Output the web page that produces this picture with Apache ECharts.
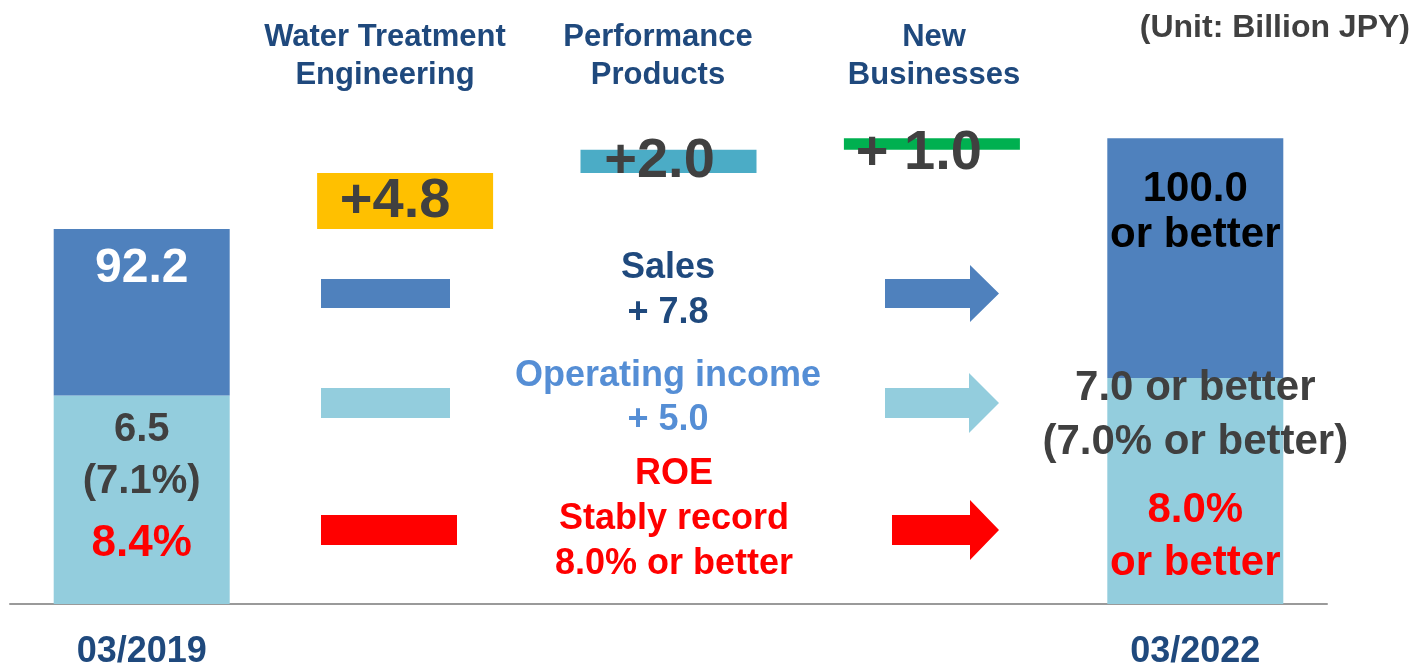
<!DOCTYPE html>
<html>
<head>
<meta charset="utf-8">
<script src="https://cdn.jsdelivr.net/npm/echarts@6/dist/echarts.min.js"></script>
<style>
  html, body { margin: 0; padding: 0; background: #fff; }
  #chart { width: 1414px; height: 663px; }
</style>
</head>
<body>
<div id="chart"></div>
<script>
// data (Billion JPY)
var categories = ['03/2019', 'Water Treatment\nEngineering', 'Performance\nProducts', 'New\nBusinesses', '03/2022'];
var axisLabels = ['03/2019', '', '', '', '03/2022'];
var startSales = 92.2;
var increments = [4.8, 2.0, 1.0];
var incLabels = ['+4.8', '+2.0', '+ 1.0'];
var endSales = 100.0;
var oiSegment = [77.9, 79.4];   // light blue part of the two end bars

var FONT = "'Liberation Sans', Arial, sans-serif";
var navy = '#1F497D', grey = '#404040';
var incColors = ['#FFC000', '#4BACC6', '#00B050'];
var incOffsets = [[-10, 0], [-9, 0], [-13, 10]];

// waterfall helpers
var baseData = ['-'], incData = ['-'];
var run = startSales;
for (var i = 0; i < increments.length; i++) {
    baseData.push(run);
    incData.push({
        value: increments[i],
        itemStyle: { color: incColors[i] },
        label: { formatter: incLabels[i], offset: incOffsets[i] }
    });
    run += increments[i];
}
baseData.push('-'); incData.push('-');

var oiData = [oiSegment[0], '-', '-', '-', oiSegment[1]];
var salesData = [startSales - oiSegment[0], '-', '-', '-', endSales - oiSegment[1]];

var myChart = echarts.init(document.getElementById('chart'));

function arrow(x0, x1, xh, yc, hs, hh, color) {
    return {
        type: 'polygon',
        shape: { points: [[x0, yc - hs], [xh, yc - hs], [xh, yc - hh], [x1, yc], [xh, yc + hh], [xh, yc + hs], [x0, yc + hs]] },
        style: { fill: color }
    };
}
function txt(s, x, y, size, color, lh, align) {
    return {
        type: 'text',
        style: {
            text: s, x: x, y: y, fill: color,
            font: 'bold ' + size + 'px ' + FONT,
            lineHeight: lh, align: align || 'center', verticalAlign: 'middle'
        }
    };
}

var option = {
    animation: false,
    grid: { left: 10, right: 87, top: 91.6, bottom: 59, outerBoundsMode: 'none', containLabel: false },
    xAxis: {
        type: 'category',
        data: categories,
        axisLine: { lineStyle: { color: '#9A9A9A', width: 2 } },
        axisTick: { show: false },
        axisLabel: {
            formatter: function (v, idx) { return axisLabels[idx]; },
            fontFamily: FONT, fontWeight: 'bold', fontSize: 36, color: navy,
            lineHeight: 40, margin: 28
        }
    },
    yAxis: {
        type: 'value', min: 60, max: 104,
        show: false, splitLine: { show: false }
    },
    series: [
        {
            name: 'Operating income', type: 'bar', stack: 'w', barWidth: 176,
            data: oiData,
            itemStyle: { color: '#93CDDD' },
            label: {
                show: true, position: 'insideTop', distance: 0,
                formatter: function (p) {
                    if (p.dataIndex === 0) return '{a|6.5}\n{a|(7.1%)}\n{r|8.4%}';
                    return '{g1|7.0 or better}\n{g2|(7.0% or better)}\n{r1|8.0%}\n{r2|or better}';
                },
                rich: {
                    a: { fontFamily: FONT, fontWeight: 'bold', fontSize: 40, color: grey, lineHeight: 52 },
                    r: { fontFamily: FONT, fontWeight: 'bold', fontSize: 44, color: '#FF0000', lineHeight: 72 },
                    g1: { fontFamily: FONT, fontWeight: 'bold', fontSize: 42, color: grey, lineHeight: 50 },
                    g2: { fontFamily: FONT, fontWeight: 'bold', fontSize: 42, color: grey, lineHeight: 58 },
                    r1: { fontFamily: FONT, fontWeight: 'bold', fontSize: 42, color: '#FF0000', lineHeight: 78 },
                    r2: { fontFamily: FONT, fontWeight: 'bold', fontSize: 42, color: '#FF0000', lineHeight: 28 }
                }
            },
            labelLayout: function (p) {
                return p.dataIndex === 0 ? { dy: 8 } : { dy: -15 };
            }
        },
        {
            name: 'Sales', type: 'bar', stack: 'w', barWidth: 176,
            data: salesData,
            itemStyle: { color: '#4F81BD' },
            label: {
                show: true, position: 'insideTop',
                formatter: function (p) {
                    return p.dataIndex === 0 ? '{w|92.2}' : '{k|100.0}\n{k|or better}';
                },
                rich: {
                    w: { fontFamily: FONT, fontWeight: 'bold', fontSize: 48, color: '#fff', lineHeight: 48 },
                    k: { fontFamily: FONT, fontWeight: 'bold', fontSize: 42, color: '#000', lineHeight: 46 }
                }
            },
            labelLayout: function (p) {
                return p.dataIndex === 0 ? { dy: 11 } : { dy: 23 };
            }
        },
        {
            name: 'base', type: 'bar', stack: 'w', barWidth: 176,
            data: baseData,
            itemStyle: { color: 'transparent' },
            silent: true
        },
        {
            name: 'Increase', type: 'bar', stack: 'w', barWidth: 176,
            data: incData,
            label: {
                show: true, position: 'inside',
                fontFamily: FONT, fontWeight: 'bold', fontSize: 56, color: grey
            }
        }
    ],
    graphic: [
        txt('(Unit: Billion JPY)', 1410, 28, 32, grey, 36, 'right'),
        txt('Water Treatment\nEngineering', 385, 56, 31, navy, 38),
        txt('Performance\nProducts', 658, 56, 31, navy, 38),
        txt('New\nBusinesses', 934, 56, 31, navy, 38),
        { type: 'rect', shape: { x: 321, y: 279, width: 129, height: 29 }, style: { fill: '#4F81BD' } },
        { type: 'rect', shape: { x: 321, y: 388, width: 129, height: 30 }, style: { fill: '#93CDDD' } },
        { type: 'rect', shape: { x: 321, y: 515, width: 136, height: 30 }, style: { fill: '#FF0000' } },
        arrow(885, 999, 970, 293.5, 14.5, 28.5, '#4F81BD'),
        arrow(885, 999, 969, 403, 15, 30, '#93CDDD'),
        arrow(892, 999, 970, 530, 15, 30, '#FF0000'),
        txt('Sales\n+ 7.8', 668, 290.5, 36, navy, 45),
        txt('Operating income\n+ 5.0', 668, 398, 36, '#558ED5', 44),
        txt('ROE\nStably record\n8.0% or better', 674, 519, 36, '#FF0000', 45)
    ]
};
myChart.setOption(option);
</script>
</body>
</html>
